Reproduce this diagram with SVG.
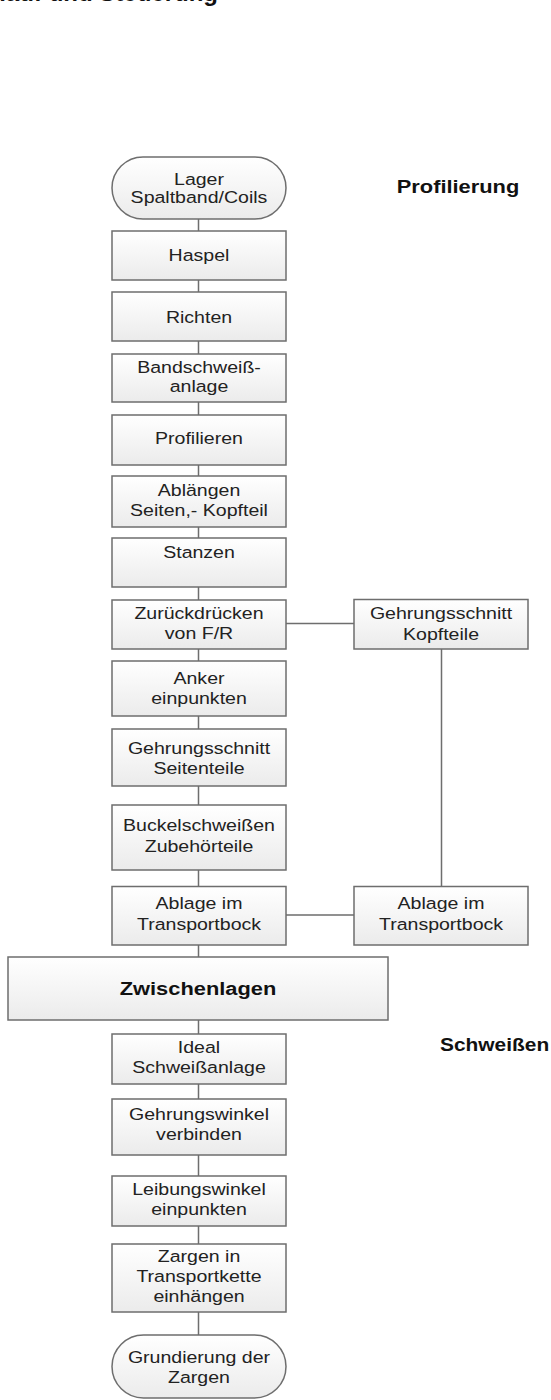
<svg xmlns="http://www.w3.org/2000/svg" width="551" height="1400" viewBox="0 0 551 1400">
<style>
.b{fill:url(#g);stroke:#6e6e6e;stroke-width:1.5}
.t{font-family:"Liberation Sans",Arial,sans-serif;font-size:17px;fill:#222;text-anchor:middle}
.h{font-family:"Liberation Sans",Arial,sans-serif;font-size:19px;font-weight:bold;fill:#111}
.c{stroke:#6e6e6e;stroke-width:1.5;fill:none}
</style>
<defs>
<linearGradient id="g" x1="0" y1="0" x2="0" y2="1">
<stop offset="0" stop-color="#ffffff"/>
<stop offset="1" stop-color="#ebebeb"/>
</linearGradient>
</defs>
<rect width="551" height="1400" fill="#fff"/>
<text class="h" x="218" y="1" text-anchor="end" style="font-size:24px">Ablauf und Steuerung</text>
<text class="h" transform="translate(458 0) scale(1.15 1)" x="0" y="193" text-anchor="middle">Profilierung</text>
<text class="h" transform="translate(440 0) scale(1.1 1)" x="0" y="1051">Schweißen</text>
<g id="connectors">
<path class="c" d="M198.5 219V231M198.5 280V292M198.5 341V354M198.5 402V415M198.5 465V476M198.5 527V538M198.5 587V600M198.5 649V661M198.5 716V729M198.5 786V805M198.5 870V886.5M198.5 945V957M198.5 1020V1034M198.5 1084V1099M198.5 1155V1176M198.5 1226V1244M198.5 1312V1335"/>
<path class="c" d="M286 623.5H354M286 915H354M441.5 649V886.5"/>
</g>
<g id="n-lager"><rect class="b" x="112" y="157" width="174" height="62" rx="31"/><text class="t" transform="translate(199 0) scale(1.15 1)"><tspan x="0" y="185">Lager</tspan><tspan x="0" y="203.5">Spaltband/Coils</tspan></text></g>
<g id="n-haspel"><rect class="b" x="112" y="231" width="174" height="49"/><text class="t" transform="translate(199 0) scale(1.15 1)" x="0" y="261.5">Haspel</text></g>
<g id="n-richten"><rect class="b" x="112" y="292" width="174" height="49"/><text class="t" transform="translate(199 0) scale(1.15 1)" x="0" y="323">Richten</text></g>
<g id="n-bandschweiss"><rect class="b" x="112" y="354" width="174" height="48"/><text class="t" transform="translate(199 0) scale(1.15 1)"><tspan x="0" y="373">Bandschweiß-</tspan><tspan x="0" y="392.5">anlage</tspan></text></g>
<g id="n-profilieren"><rect class="b" x="112" y="415" width="174" height="50"/><text class="t" transform="translate(199 0) scale(1.15 1)" x="0" y="444">Profilieren</text></g>
<g id="n-ablaengen"><rect class="b" x="112" y="476" width="174" height="51"/><text class="t" transform="translate(199 0) scale(1.15 1)"><tspan x="0" y="496.5">Ablängen</tspan><tspan x="0" y="516">Seiten,- Kopfteil</tspan></text></g>
<g id="n-stanzen"><rect class="b" x="112" y="538" width="174" height="49"/><text class="t" transform="translate(199 0) scale(1.15 1)" x="0" y="558">Stanzen</text></g>
<g id="n-zurueck"><rect class="b" x="112" y="600" width="174" height="49"/><text class="t" transform="translate(199 0) scale(1.15 1)"><tspan x="0" y="619">Zurückdrücken</tspan><tspan x="0" y="639">von F/R</tspan></text></g>
<g id="n-anker"><rect class="b" x="112" y="661" width="174" height="55"/><text class="t" transform="translate(199 0) scale(1.15 1)"><tspan x="0" y="684">Anker</tspan><tspan x="0" y="704">einpunkten</tspan></text></g>
<g id="n-gehr-seiten"><rect class="b" x="112" y="729" width="174" height="57"/><text class="t" transform="translate(199 0) scale(1.15 1)"><tspan x="0" y="754">Gehrungsschnitt</tspan><tspan x="0" y="774">Seitenteile</tspan></text></g>
<g id="n-buckel"><rect class="b" x="112" y="805" width="174" height="65"/><text class="t" transform="translate(199 0) scale(1.15 1)"><tspan x="0" y="831">Buckelschweißen</tspan><tspan x="0" y="852">Zubehörteile</tspan></text></g>
<g id="n-ablage"><rect class="b" x="112" y="886.5" width="174" height="58.5"/><text class="t" transform="translate(199 0) scale(1.15 1)"><tspan x="0" y="909">Ablage im</tspan><tspan x="0" y="930.5">Transportbock</tspan></text></g>
<g id="n-gehr-kopf"><rect class="b" x="354" y="599.5" width="174" height="49.5"/><text class="t" transform="translate(441 0) scale(1.15 1)"><tspan x="0" y="619.5">Gehrungsschnitt</tspan><tspan x="0" y="640">Kopfteile</tspan></text></g>
<g id="n-ablage2"><rect class="b" x="354" y="886.5" width="174" height="58.5"/><text class="t" transform="translate(441 0) scale(1.15 1)"><tspan x="0" y="909">Ablage im</tspan><tspan x="0" y="930.5">Transportbock</tspan></text></g>
<g id="n-zwischen"><rect class="b" x="8" y="957" width="380" height="63"/><text class="h" transform="translate(198 0) scale(1.15 1)" x="0" y="995" text-anchor="middle">Zwischenlagen</text></g>
<g id="n-ideal"><rect class="b" x="112" y="1034" width="174" height="50"/><text class="t" transform="translate(199 0) scale(1.15 1)"><tspan x="0" y="1053.5">Ideal</tspan><tspan x="0" y="1073.5">Schweißanlage</tspan></text></g>
<g id="n-gehrwinkel"><rect class="b" x="112" y="1099" width="174" height="56"/><text class="t" transform="translate(199 0) scale(1.15 1)"><tspan x="0" y="1120">Gehrungswinkel</tspan><tspan x="0" y="1140">verbinden</tspan></text></g>
<g id="n-leibung"><rect class="b" x="112" y="1176" width="174" height="50"/><text class="t" transform="translate(199 0) scale(1.15 1)"><tspan x="0" y="1195">Leibungswinkel</tspan><tspan x="0" y="1215">einpunkten</tspan></text></g>
<g id="n-zargen"><rect class="b" x="112" y="1244" width="174" height="68"/><text class="t" transform="translate(199 0) scale(1.15 1)"><tspan x="0" y="1262">Zargen in</tspan><tspan x="0" y="1282.5">Transportkette</tspan><tspan x="0" y="1302">einhängen</tspan></text></g>
<g id="n-grund"><rect class="b" x="112" y="1335" width="174" height="63" rx="31.5"/><text class="t" transform="translate(199 0) scale(1.15 1)"><tspan x="0" y="1363.5">Grundierung der</tspan><tspan x="0" y="1383.5">Zargen</tspan></text></g>
</svg>
